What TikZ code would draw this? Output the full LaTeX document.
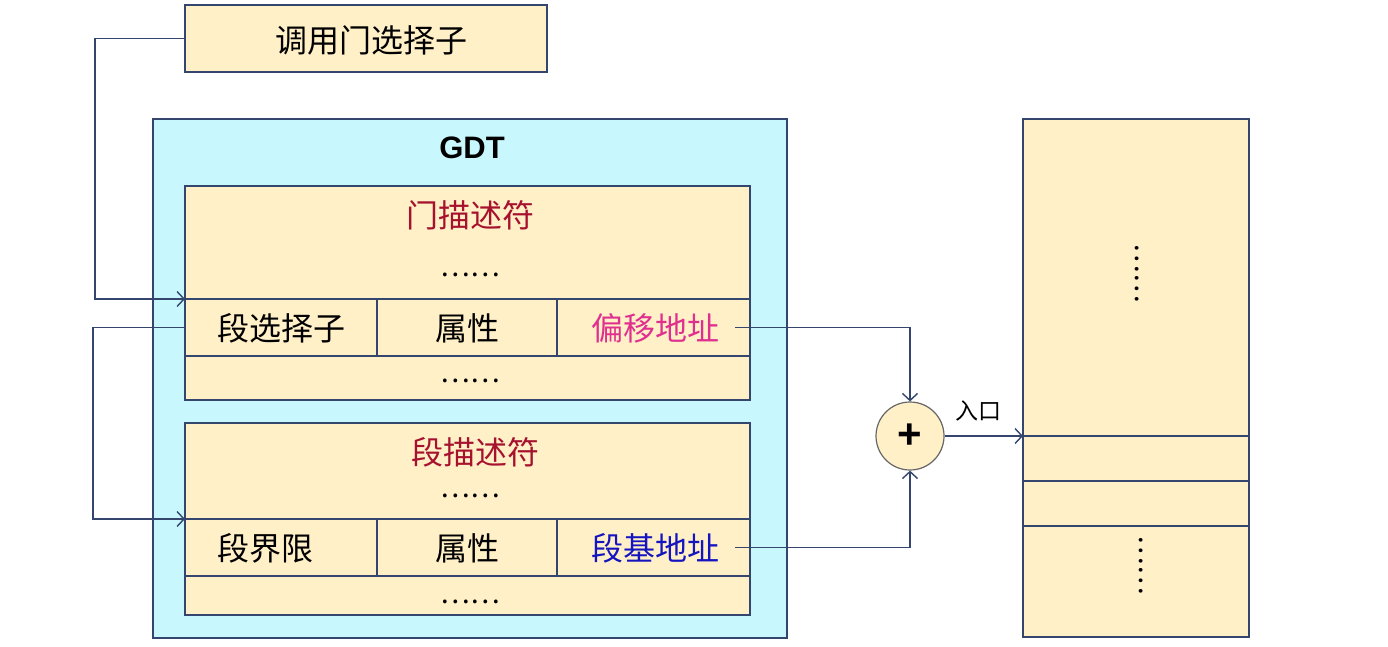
\documentclass[tikz,border=0pt]{standalone}
\usepackage{fontspec}
\setmainfont{Noto Sans CJK SC}
\newfontfamily\latinbold{Liberation Sans}
\usetikzlibrary{arrows.meta}
\definecolor{boxfill}{HTML}{FFF0C8}
\definecolor{gdtfill}{HTML}{C8F7FD}
\definecolor{edge}{HTML}{34466E}
\definecolor{darkred}{HTML}{A6122E}
\definecolor{magent}{HTML}{E0308F}
\definecolor{bluet}{HTML}{1414C0}
\begin{document}
\begin{tikzpicture}[x=1pt,y=-1pt,
  box/.style={draw=edge,line width=1.4pt,fill=boxfill,inner sep=0,outer sep=0},
  cell/.style={draw=edge,line width=1.4pt,inner sep=0,outer sep=0,minimum height=57pt},
  conn/.style={draw=edge,line width=1.4pt},
  arr/.style={conn,-{Straight Barb[length=7pt,width=15pt]}},
  txt/.style={font=\fontsize{32}{32}\selectfont,inner sep=0},
  dotstxt/.style={font=\fontsize{28}{28}\selectfont,inner sep=0}]
\useasboundingbox[fill=white] (0,0) rectangle (1388,647);

% call gate selector
\node[box,minimum width=362pt,minimum height=67pt] (call) at (366,38.5) {};
\node[txt] (calltxt) at (371,40) {调用门选择子};

% GDT
\node[draw=edge,fill=gdtfill,line width=1.4pt,inner sep=0,outer sep=0,
      minimum width=634pt,minimum height=519pt] (gdt) at (470,378.5) {};
\node[font=\latinbold\bfseries\fontsize{31}{31}\selectfont,inner sep=0] (gdtlabel) at (472,148) {GDT};

% gate descriptor
\node[box,minimum width=565pt,minimum height=214pt] (gate) at (467.5,293) {};
\node[cell,minimum width=192pt] (gsel) at (281,327.5) {};
\node[cell,minimum width=180pt] (gattr) at (467,327.5) {};
\node[cell,minimum width=193pt] (goff) at (653.5,327.5) {};
\node[txt,text=darkred] (gatetitle) at (470,215) {门描述符};
\node[dotstxt] (gdots1) at (470,275) {……};
\node[txt,anchor=west] (gseltxt) at (217,328) {段选择子};
\node[txt] (gattrtxt) at (467,328) {属性};
\node[txt,text=magent] (gofftxt) at (655,328) {偏移地址};
\node[dotstxt] (gdots2) at (470,381) {……};

% segment descriptor
\node[box,minimum width=565pt,minimum height=192pt] (seg) at (467.5,519) {};
\node[cell,minimum width=192pt] (slim) at (281,547.5) {};
\node[cell,minimum width=180pt] (sattr) at (467,547.5) {};
\node[cell,minimum width=193pt] (sbase) at (653.5,547.5) {};
\node[txt,text=darkred] (segtitle) at (475,452) {段描述符};
\node[dotstxt] (sdots1) at (470,496) {……};
\node[txt,anchor=west] (slimtxt) at (217,548) {段界限};
\node[txt] (sattrtxt) at (467,548) {属性};
\node[txt,text=bluet] (sbasetxt) at (655,548) {段基地址};
\node[dotstxt] (sdots2) at (470,602) {……};

% adder
\node[circle,draw=gray!80!black,fill=boxfill,line width=1.2pt,minimum size=68pt,inner sep=0] (plus) at (910,436) {};
\node[font=\latinbold\bfseries\fontsize{42}{42}\selectfont,inner sep=0] (plussign) at (910,436) {+};

% memory
\node[box,minimum width=226pt,minimum height=518pt] (mem) at (1136,378) {};
\coordinate (m2) at (1023,481);
\coordinate (m3) at (1023,526);
\draw[conn] (mem.west |- plus) -- (mem.east |- plus);
\draw[conn] (m2) -- (m2 -| mem.east);
\draw[conn] (m3) -- (m3 -| mem.east);
\node[dotstxt,rotate=-90] (mdots1) at (1137,273) {……};
\node[dotstxt,rotate=-90] (mdots2) at (1141,565) {……};

% connectors
\draw[arr] (call.west) -- ++(-90,0) |- (gsel.north west);
\draw[arr] (gsel.west) -- ++(-92,0) |- (slim.north west);
\draw[arr] ([xshift=-15pt]goff.east) -| (plus.north);
\draw[arr] ([xshift=-15pt]sbase.east) -| (plus.south);
\draw[arr] (plus.east) -- (plus.east -| mem.west);
\node[font=\fontsize{23}{23}\selectfont,inner sep=0] (entry) at (978,411) {入口};
\end{tikzpicture}
\end{document}
